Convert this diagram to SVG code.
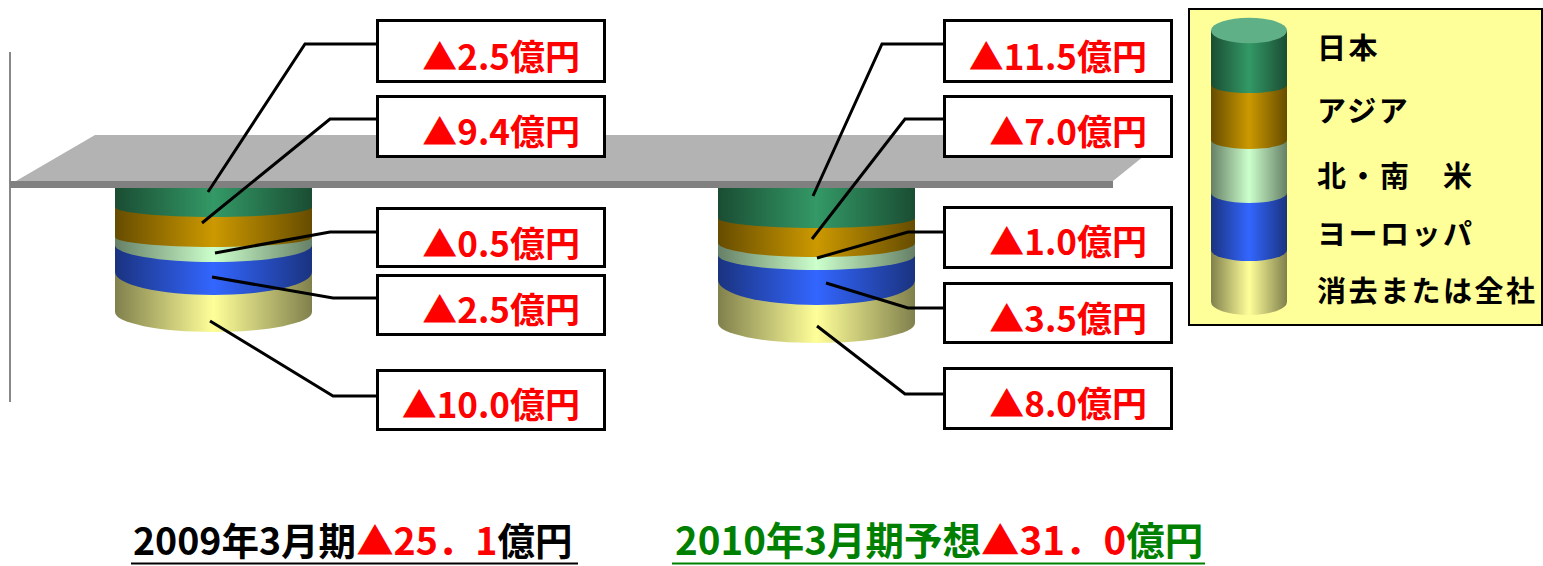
<svg xmlns="http://www.w3.org/2000/svg" width="1543" height="566" viewBox="0 0 1543 566">
<defs>
<linearGradient id="gGreen" x1="0" y1="0" x2="1" y2="0"><stop offset="0" stop-color="#1a4d33"/><stop offset="0.5" stop-color="#339966"/><stop offset="1" stop-color="#1a4d33"/></linearGradient>
<linearGradient id="gOrange" x1="0" y1="0" x2="1" y2="0"><stop offset="0" stop-color="#664c00"/><stop offset="0.5" stop-color="#cc9900"/><stop offset="1" stop-color="#664c00"/></linearGradient>
<linearGradient id="gLight" x1="0" y1="0" x2="1" y2="0"><stop offset="0" stop-color="#668066"/><stop offset="0.5" stop-color="#ccffcc"/><stop offset="1" stop-color="#668066"/></linearGradient>
<linearGradient id="gBlue" x1="0" y1="0" x2="1" y2="0"><stop offset="0" stop-color="#1a3380"/><stop offset="0.5" stop-color="#3366ff"/><stop offset="1" stop-color="#1a3380"/></linearGradient>
<linearGradient id="gYellow" x1="0" y1="0" x2="1" y2="0"><stop offset="0" stop-color="#80804d"/><stop offset="0.5" stop-color="#ffff99"/><stop offset="1" stop-color="#80804d"/></linearGradient>
</defs>
<style>
.box{fill:#fff;stroke:#000;stroke-width:3}
.val{font-family:"Noto Sans CJK JP",sans-serif;font-size:35px;font-weight:700;fill:#ff0000;text-anchor:end}
.leg{font-family:"Noto Sans CJK JP",sans-serif;font-size:29px;font-weight:700;fill:#000;letter-spacing:2.5px}
.lead{fill:none;stroke:#000;stroke-width:3}
.tot{font-family:"Noto Sans CJK JP",sans-serif;font-weight:700}
</style>

<g id="axis"><line x1="10" y1="52" x2="10" y2="402" stroke="#888" stroke-width="2"/></g>

<g id="floor">
<polygon points="16,181 95,135 1170,135 1113,181" fill="#b3b3b3"/>
<rect x="10" y="181" width="1103" height="7" fill="#808080"/>
</g>

<g id="cylinder-2009">
<path d="M115,272 L115,312 A98.5,20 0 0 0 312,312 L312,272 Z" fill="url(#gYellow)"/>
<path d="M115,245 L115,272 A98.5,23 0 0 0 312,272 L312,245 Z" fill="url(#gBlue)"/>
<path d="M115,237 L115,245 A98.5,17 0 0 0 312,245 L312,237 Z" fill="url(#gLight)"/>
<path d="M115,207 L115,237 A98.5,10 0 0 0 312,237 L312,207 Z" fill="url(#gOrange)"/>
<path d="M115,188 L115,207 A98.5,10 0 0 0 312,207 L312,188 Z" fill="url(#gGreen)"/>
</g>

<g id="cylinder-2010">
<path d="M718,280 L718,323 A98.5,20 0 0 0 915,323 L915,280 Z" fill="url(#gYellow)"/>
<path d="M718,255 L718,280 A98.5,25 0 0 0 915,280 L915,255 Z" fill="url(#gBlue)"/>
<path d="M718,243 L718,255 A98.5,15 0 0 0 915,255 L915,243 Z" fill="url(#gLight)"/>
<path d="M718,218 L718,243 A98.5,14 0 0 0 915,243 L915,218 Z" fill="url(#gOrange)"/>
<path d="M718,188 L718,218 A98.5,10 0 0 0 915,218 L915,188 Z" fill="url(#gGreen)"/>
</g>

<g id="connectors">
<polyline class="lead" points="208,192 305,44 378,44"/>
<polyline class="lead" points="202,223 330,119 378,119"/>
<polyline class="lead" points="215,253 330,232 378,232"/>
<polyline class="lead" points="212,277 333,298 378,298"/>
<polyline class="lead" points="210,321 333,396 378,396"/>
<polyline class="lead" points="813,196 882,44 944,44"/>
<polyline class="lead" points="812,239 905,119 944,119"/>
<polyline class="lead" points="817,258 908,232 944,232"/>
<polyline class="lead" points="826,283 908,308 944,308"/>
<polyline class="lead" points="817,326 905,394 944,394"/>
</g>

<g id="label-2009-japan"><rect class="box" x="377.5" y="20.5" width="227" height="61"/><text class="val" x="580" y="70">▲2.5億円</text></g>
<g id="label-2009-asia"><rect class="box" x="377.5" y="96.5" width="227" height="60"/><text class="val" x="580" y="145">▲9.4億円</text></g>
<g id="label-2009-america"><rect class="box" x="377.5" y="208.5" width="227" height="58"/><text class="val" x="580" y="257">▲0.5億円</text></g>
<g id="label-2009-europe"><rect class="box" x="377.5" y="275.5" width="227" height="59"/><text class="val" x="580" y="323">▲2.5億円</text></g>
<g id="label-2009-other"><rect class="box" x="377.5" y="370.5" width="227" height="59"/><text class="val" x="580" y="418">▲10.0億円</text></g>

<g id="label-2010-japan"><rect class="box" x="944.5" y="20.5" width="227" height="61"/><text class="val" x="1147" y="70">▲11.5億円</text></g>
<g id="label-2010-asia"><rect class="box" x="944.5" y="96.5" width="227" height="60"/><text class="val" x="1147" y="145">▲7.0億円</text></g>
<g id="label-2010-america"><rect class="box" x="944.5" y="207.5" width="227" height="60"/><text class="val" x="1147" y="255">▲1.0億円</text></g>
<g id="label-2010-europe"><rect class="box" x="944.5" y="283.5" width="227" height="59"/><text class="val" x="1147" y="332">▲3.5億円</text></g>
<g id="label-2010-other"><rect class="box" x="944.5" y="368.5" width="227" height="60"/><text class="val" x="1147" y="417">▲8.0億円</text></g>

<g id="legend">
<rect x="1189" y="9" width="353" height="316" fill="#ffff99" stroke="#000" stroke-width="2"/>
<path d="M1211,250 L1211,302 A38,13 0 0 0 1287,302 L1287,250 Z" fill="url(#gYellow)"/>
<path d="M1211,193 L1211,250 A38,11 0 0 0 1287,250 L1287,193 Z" fill="url(#gBlue)"/>
<path d="M1211,140 L1211,193 A38,10 0 0 0 1287,193 L1287,140 Z" fill="url(#gLight)"/>
<path d="M1211,85 L1211,140 A38,9 0 0 0 1287,140 L1287,85 Z" fill="url(#gOrange)"/>
<path d="M1211,30.5 L1211,85 A38,8 0 0 0 1287,85 L1287,30.5 Z" fill="url(#gGreen)"/>
<ellipse cx="1249" cy="30.5" rx="38" ry="12.8" fill="#5faf87"/>
<text class="leg" x="1317" y="59">日本</text>
<text class="leg" x="1317" y="122">アジア</text>
<text class="leg" x="1317" y="187">北・南　米</text>
<text class="leg" x="1317" y="245">ヨーロッパ</text>
<text class="leg" x="1317" y="302">消去または全社</text>
</g>

<g id="total-2009">
<text class="tot" x="133" y="555" font-size="37.5"><tspan fill="#000">2009年3月期</tspan><tspan fill="#ff0000">▲25．1</tspan><tspan fill="#000">億円</tspan></text>
<line x1="131" y1="563.5" x2="578" y2="563.5" stroke="#000" stroke-width="2"/>
</g>
<g id="total-2010">
<text class="tot" x="675" y="555" font-size="38.5"><tspan fill="#008000">2010年3月期予想</tspan><tspan fill="#ff0000">▲31．0</tspan><tspan fill="#008000">億円</tspan></text>
<line x1="672" y1="563.5" x2="1205" y2="563.5" stroke="#008000" stroke-width="2"/>
</g>
</svg>
